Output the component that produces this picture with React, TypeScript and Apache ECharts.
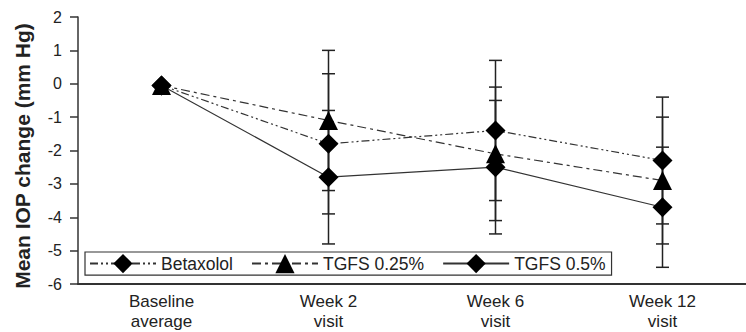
import React, { useEffect, useRef } from "react";
import * as echarts from "echarts";

const categories = ["Baseline\naverage", "Week 2\nvisit", "Week 6\nvisit", "Week 12\nvisit"];
const yTicks = [2, 1, 0, -1, -2, -3, -4, -5, -6];

const betaxololMean = [-0.05, -1.8, -1.4, -2.3];
const betaxololSD = [0, 2.1, 2.1, 1.9];
const tgfs025Mean = [-0.05, -1.1, -2.1, -2.9];
const tgfs025SD = [0, 2.1, 2.0, 1.9];
const tgfs05Mean = [-0.05, -2.8, -2.5, -3.7];
const tgfs05SD = [0, 2.0, 2.0, 1.8];

const FONT = "'Liberation Sans', Arial, sans-serif";
const INK = "#222";

function errData(mean: number[], sd: number[]) {
  const out: number[][] = [];
  mean.forEach((m, i) => {
    if (sd[i] > 0) out.push([i, m - sd[i], m + sd[i]]);
  });
  return out;
}

function errSeries(name: string, mean: number[], sd: number[]) {
  return {
    name,
    type: "custom",
    z: 1,
    encode: { x: 0, y: [1, 2] },
    data: errData(mean, sd),
    renderItem: (params: any, api: any) => {
      const x = api.value(0);
      const lo = api.coord([x, api.value(1)]);
      const hi = api.coord([x, api.value(2)]);
      const hw = 6.5;
      const st = { stroke: INK, lineWidth: 1.5 };
      return {
        type: "group",
        children: [
          { type: "line", shape: { x1: lo[0], y1: lo[1], x2: hi[0], y2: hi[1] }, style: st },
          { type: "line", shape: { x1: lo[0] - hw, y1: lo[1], x2: lo[0] + hw, y2: lo[1] }, style: st },
          { type: "line", shape: { x1: hi[0] - hw, y1: hi[1], x2: hi[0] + hw, y2: hi[1] }, style: st },
        ],
      };
    },
  };
}

function lineSeries(name: string, data: number[], symbol: string, size: number, dash: any) {
  return {
    name,
    type: "line",
    z: 3,
    data,
    symbol,
    symbolSize: size,
    showAllSymbol: true,
    itemStyle: { color: "#000" },
    lineStyle: { color: "#333", width: 1.2, type: dash },
  };
}

export default function App() {
  const ref = useRef<HTMLDivElement>(null);
  useEffect(() => {
    document.body.style.margin = "0";
    const chart = echarts.init(ref.current!, null, { renderer: "svg" });
    chart.setOption({
      animation: false,
      backgroundColor: "#fff",
      textStyle: { fontFamily: FONT },
      grid: { left: 78, top: 17, width: 680, height: 267 },
      xAxis: {
        type: "category",
        data: categories,
        boundaryGap: true,
        axisLine: { show: true, onZero: false, lineStyle: { color: "#333", width: 2 } },
        axisTick: { show: false },
        axisLabel: {
          color: INK,
          fontSize: 17,
          lineHeight: 20,
          margin: 7,
          fontFamily: FONT,
        },
      },
      yAxis: {
        type: "value",
        min: -6,
        max: 2,
        interval: 1,
        axisLine: { show: true, onZero: false, lineStyle: { color: "#333", width: 1.5 } },
        axisTick: { show: true, length: 8, lineStyle: { color: "#333", width: 1.5 } },
        splitLine: { show: false },
        axisLabel: {
          color: INK,
          fontSize: 16,
          margin: 16,
          fontFamily: FONT,
          formatter: (v: number) => (yTicks.includes(v) ? String(v) : ""),
        },
      },
      legend: {
        data: ["Betaxolol", "TGFS 0.25%", "TGFS 0.5%"],
        left: 85,
        top: 252,
        orient: "horizontal",
        itemWidth: 66,
        itemHeight: 24,
        itemGap: 18,
        padding: [2, 6, 2, 4],
        borderColor: "#333",
        borderWidth: 1.2,
        backgroundColor: "#fff",
        textStyle: { color: INK, fontSize: 17.5, fontFamily: FONT },
      },
      graphic: [
        {
          type: "text",
          x: 22,
          y: 156,
          rotation: Math.PI / 2,
          style: {
            text: "Mean IOP change (mm Hg)",
            fontSize: 21,
            fontWeight: "bold",
            fontFamily: FONT,
            fill: INK,
            textAlign: "center",
            textVerticalAlign: "middle",
          },
        },
      ],
      series: [
        errSeries("errBeta", betaxololMean, betaxololSD),
        errSeries("err025", tgfs025Mean, tgfs025SD),
        errSeries("err05", tgfs05Mean, tgfs05SD),
        lineSeries("Betaxolol", betaxololMean, "diamond", 20, [8, 3, 2, 3, 2, 3]),
        lineSeries("TGFS 0.25%", tgfs025Mean, "triangle", 19, [9, 4, 3, 4]),
        lineSeries("TGFS 0.5%", tgfs05Mean, "diamond", 20, "solid"),
      ],
    });
    return () => chart.dispose();
  }, []);
  return <div ref={ref} style={{ width: 746, height: 332 }} />;
}
